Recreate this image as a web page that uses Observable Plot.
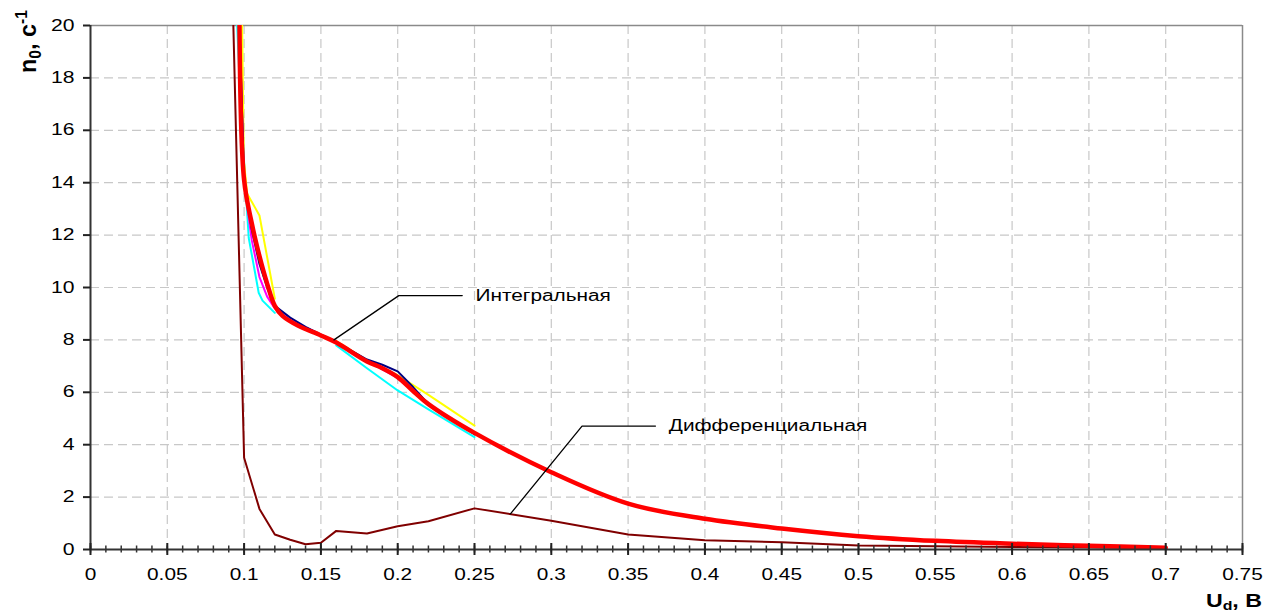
<!DOCTYPE html>
<html>
<head>
<meta charset="utf-8">
<script src="https://cdn.jsdelivr.net/npm/d3@7"></script>
<script src="https://cdn.jsdelivr.net/npm/@observablehq/plot@0.6"></script>
<style>
  html, body { margin: 0; padding: 0; background: #fff; }
  #chart { width: 1265px; height: 613px; }
</style>
</head>
<body>
<div id="chart"></div>
<script>
// Axis ticks and their labels
const xTicks = [0, 0.05, 0.1, 0.15, 0.2, 0.25, 0.3, 0.35, 0.4, 0.45, 0.5, 0.55, 0.6, 0.65, 0.7, 0.75];
const xTickLabels = ["0", "0.05", "0.1", "0.15", "0.2", "0.25", "0.3", "0.35", "0.4", "0.45", "0.5", "0.55", "0.6", "0.65", "0.7", "0.75"];
const yTicks = [0, 2, 4, 6, 8, 10, 12, 14, 16, 18, 20];
const yTickLabels = ["0", "2", "4", "6", "8", "10", "12", "14", "16", "18", "20"];

// Differential characteristic (dark red)
const diffU = [0.093, 0.1, 0.11, 0.12, 0.13, 0.14, 0.15, 0.16, 0.18, 0.2, 0.22, 0.25, 0.3, 0.35, 0.4, 0.45, 0.5, 0.55, 0.6, 0.65, 0.7];
const diffN = [20, 3.5, 1.55, 0.57, 0.37, 0.2, 0.26, 0.71, 0.61, 0.89, 1.08, 1.57, 1.1, 0.57, 0.35, 0.28, 0.15, 0.12, 0.1, 0.08, 0.05];

// Integral characteristics of the individual runs (null = no measurement)
const cyanU = [0.0955, 0.0977, 0.103, 0.1095, 0.112, 0.12, null, 0.16, 0.18, 0.2, 0.22, 0.25];
const cyanN = [20, 17, 11.9, 9.8, 9.5, 9.03, null, 7.79, 6.92, 6.07, 5.35, 4.29];

const yellowU = [0.0987, 0.0998, 0.102, 0.11, 0.12, null, 0.16, 0.18, 0.2, 0.22, 0.25];
const yellowN = [20, 14.85, 13.58, 12.75, 9.57, null, 7.95, 7.22, 6.65, 5.9, 4.73];

const magentaU = [0.097, 0.1, 0.105, 0.11, 0.115, 0.12, 0.13, 0.15, 0.16, 0.18, 0.2, 0.22, 0.235, 0.25];
const magentaN = [20, 14.0, 11.8, 10.4, 9.65, 9.2, 8.75, 8.2, 7.9, 7.2, 6.55, 5.55, 4.95, 4.42];

const navyU = [0.097, 0.1, 0.105, 0.11, 0.115, 0.12, 0.13, 0.14, 0.15, 0.16, 0.18, 0.19, 0.2, 0.21, 0.22, 0.25];
const navyN = [20, 14.1, 12.2, 10.9, 10.0, 9.3, 8.85, 8.5, 8.2, 7.92, 7.25, 7.05, 6.8, 6.2, 5.55, 4.4];

// Averaged integral characteristic (red)
const redU = [0.097, 0.1, 0.105, 0.11, 0.115, 0.12, 0.125, 0.135, 0.15, 0.16, 0.18, 0.19, 0.2, 0.21, 0.22, 0.25, 0.3, 0.35, 0.4, 0.45, 0.5, 0.55, 0.6, 0.65, 0.7];
const redN = [20, 14.1, 12.45, 11.2, 10.15, 9.3, 8.92, 8.55, 8.17, 7.9, 7.18, 6.92, 6.58, 6.05, 5.55, 4.45, 2.95, 1.75, 1.17, 0.8, 0.51, 0.33, 0.22, 0.14, 0.07];

// Callout labels and their leader lines
const labelNames = ["Интегральная", "Дифференциальная"];
const leaderU = [[0.1585, 0.2007, 0.242], [0.2734, 0.32, 0.3678]];
const leaderN = [[8.0, 9.69, 9.69], [1.36, 4.71, 4.71]];
const labelU = [0.2507, 0.3765];
const labelN = [9.69, 4.71];

const rows = (us, ns) => us.map((u, i) => ({u, n: ns[i]}));
const leaderRows = leaderU.flatMap((us, k) => us.map((u, i) => ({id: k, u, n: leaderN[k][i]})));
const labelRows = labelNames.map((name, k) => ({name, u: labelU[k], n: labelN[k]}));
const minorTicks = d3.range(0, 76).map(i => i / 100);

const xLabelOf = new Map(xTicks.map((t, i) => [t, xTickLabels[i]]));
const yLabelOf = new Map(yTicks.map((t, i) => [t, yTickLabels[i]]));

const FONT = "'Liberation Sans', Arial, Helvetica, sans-serif";

const chart = Plot.plot({
  width: 1265,
  height: 613,
  marginLeft: 90,
  marginRight: 23,
  marginTop: 25,
  marginBottom: 64,
  style: {fontFamily: FONT, fontSize: "16px", color: "#000", background: "#fff", overflow: "visible"},
  x: {domain: [0, 0.75], axis: null},
  y: {domain: [0, 20], axis: null},
  marks: [
    Plot.gridX(xTicks.slice(1, -1), {stroke: "#c8c8c8", strokeOpacity: 1, strokeWidth: 1.2, strokeDasharray: "9,5"}),
    Plot.gridY(yTicks.slice(1, -1), {stroke: "#c8c8c8", strokeOpacity: 1, strokeWidth: 1.2, strokeDasharray: "9,5"}),
    Plot.ruleY([20], {stroke: "#8a8a8a", strokeWidth: 1.5}),
    Plot.ruleX([0.75], {stroke: "#8a8a8a", strokeWidth: 1.5}),

    Plot.line(rows(diffU, diffN), {x: "u", y: "n", stroke: "#800000", strokeWidth: 2, clip: true}),
    Plot.line(rows(cyanU, cyanN), {x: "u", y: "n", stroke: "#00ffff", strokeWidth: 2, clip: true}),
    Plot.line(rows(yellowU, yellowN), {x: "u", y: "n", stroke: "#ffff00", strokeWidth: 2, clip: true}),
    Plot.line(rows(magentaU, magentaN), {x: "u", y: "n", stroke: "#ff00ff", strokeWidth: 2, clip: true}),
    Plot.line(rows(navyU, navyN), {x: "u", y: "n", stroke: "#000080", strokeWidth: 2, clip: true}),
    Plot.line(rows(redU, redN), {x: "u", y: "n", stroke: "#ff0000", strokeWidth: 4.5, curve: "catmull-rom", clip: true}),

    Plot.line(leaderRows, {x: "u", y: "n", z: "id", stroke: "#000", strokeWidth: 1.3}),
    Plot.text(labelRows, {x: "u", y: "n", text: "name", textAnchor: "start", fill: "#000", fontSize: 16}),

    // axis lines
    Plot.ruleX([0], {stroke: "#333", strokeWidth: 2}),
    Plot.ruleY([0], {stroke: "#333", strokeWidth: 2}),
    // x ticks crossing the axis: minor every 0.01, major every 0.05
    Plot.ruleX(minorTicks, {x: d => d, y1: 0, y2: 0, insetTop: -3.5, insetBottom: -3.5, stroke: "#333", strokeWidth: 1.5}),
    Plot.ruleX(xTicks, {x: d => d, y1: 0, y2: 0, insetTop: -6, insetBottom: -6, stroke: "#222", strokeWidth: 2}),
    Plot.axisX(xTicks, {label: null, tickSize: 0, tickPadding: 19, tickFormat: d => xLabelOf.get(d), fontSize: 16, fill: "#000"}),
    Plot.axisY(yTicks, {label: null, tickSize: 7, tickPadding: 9, tickFormat: d => yLabelOf.get(d), fontSize: 16, fill: "#000", stroke: "#222", strokeWidth: 2})
  ]
});

document.getElementById("chart").appendChild(chart);

const svg = d3.select(chart);

// Widen glyphs of the plain labels
function widen(selector, k) {
  chart.querySelectorAll(selector).forEach(t => {
    const L = t.getComputedTextLength();
    t.setAttribute("textLength", (L * k).toFixed(1));
    t.setAttribute("lengthAdjust", "spacingAndGlyphs");
  });
}
widen('g[aria-label="x-axis tick label"] text', 1.3);
widen('g[aria-label="y-axis tick label"] text', 1.32);
widen('g[aria-label="text"] text', 1.3);

// Axis titles with sub/superscripts
const yTitle = svg.append("text")
  .attr("transform", "translate(36,73) rotate(-90)")
  .attr("text-anchor", "start")
  .attr("font-family", FONT).attr("font-weight", "bold").attr("font-size", 24).attr("fill", "#000");
yTitle.append("tspan").text("n");
yTitle.append("tspan").attr("font-size", 16).attr("dy", 5).text("0");
yTitle.append("tspan").attr("dy", -5).text(", c");
yTitle.append("tspan").attr("font-size", 16).attr("dy", -9).text("-1");
{
  const L = yTitle.node().getComputedTextLength();
  yTitle.attr("textLength", 63).attr("lengthAdjust", "spacingAndGlyphs");
}

const xTitle = svg.append("text")
  .attr("x", 1262).attr("y", 607).attr("text-anchor", "end")
  .attr("font-family", FONT).attr("font-weight", "bold").attr("font-size", 19).attr("fill", "#000");
xTitle.append("tspan").text("U");
xTitle.append("tspan").attr("font-size", 13).attr("dy", 3).text("d");
xTitle.append("tspan").attr("dy", -3).text(", B");
{
  const L = xTitle.node().getComputedTextLength();
  xTitle.attr("textLength", (L * 1.22).toFixed(1)).attr("lengthAdjust", "spacingAndGlyphs");
}
</script>
</body>
</html>
